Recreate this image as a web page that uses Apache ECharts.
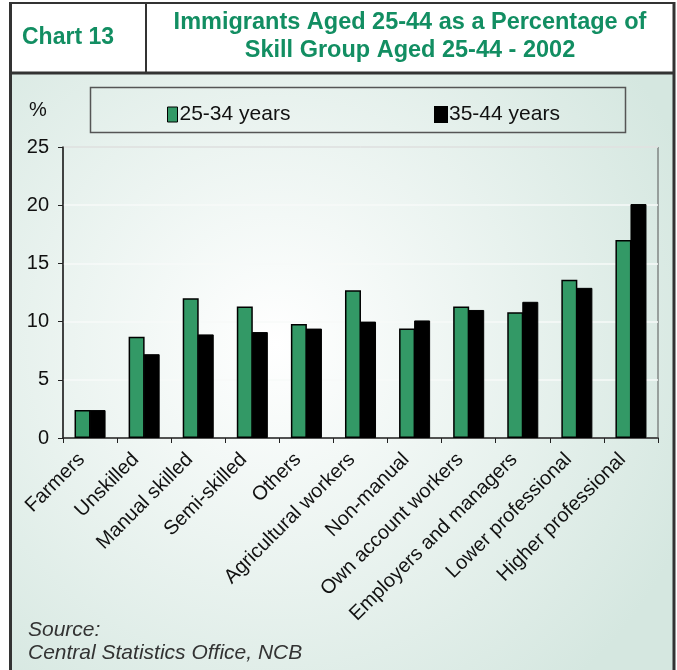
<!DOCTYPE html>
<html>
<head>
<meta charset="utf-8">
<script src="https://cdn.jsdelivr.net/npm/echarts@6/dist/echarts.min.js"></script>
<style>
  html, body { margin: 0; padding: 0; background: #fff; }
  #chart { width: 677px; height: 670px; }
</style>
</head>
<body>
<div id="chart"></div>
<script>
const categories = ['Farmers', 'Unskilled', 'Manual skilled', 'Semi-skilled', 'Others',
    'Agricultural workers', 'Non-manual', 'Own account workers', 'Employers and managers',
    'Lower professional', 'Higher professional'];
const age2534 = [2.4, 8.7, 12.0, 11.3, 9.8, 12.7, 9.4, 11.3, 10.8, 13.6, 17.0];
const age3544 = [2.4, 7.2, 8.9, 9.1, 9.4, 10.0, 10.1, 11.0, 11.7, 12.9, 20.1];
const yTicks = [0, 5, 10, 15, 20, 25];

const GREEN = '#339966';
const TITLE_GREEN = '#128e62';
const FONT = 'Liberation Sans, Arial, sans-serif';

const chart = echarts.init(document.getElementById('chart'), null, { renderer: 'canvas' });

const panelBg = new echarts.graphic.RadialGradient(0.4, 0.45, 0.75, [
    { offset: 0, color: '#ffffff' },
    { offset: 1, color: '#d5e7e0' }
]);

chart.setOption({
    animation: false,
    backgroundColor: '#ffffff',
    textStyle: { fontFamily: FONT },
    graphic: [
        // chart panel background
        { type: 'rect', z: -10, shape: { x: 11, y: 74, width: 662, height: 600 }, style: { fill: panelBg } },
        // frame lines
        { type: 'line', shape: { x1: 10, y1: 3, x2: 674, y2: 3 }, style: { stroke: '#333', lineWidth: 2 } },
        { type: 'line', shape: { x1: 10, y1: 73, x2: 674, y2: 73 }, style: { stroke: '#333', lineWidth: 3 } },
        { type: 'line', shape: { x1: 10.5, y1: 2, x2: 10.5, y2: 670 }, style: { stroke: '#333', lineWidth: 3 } },
        { type: 'line', shape: { x1: 674, y1: 2, x2: 674, y2: 670 }, style: { stroke: '#333', lineWidth: 3 } },
        { type: 'line', shape: { x1: 146, y1: 2, x2: 146, y2: 73 }, style: { stroke: '#333', lineWidth: 2 } },
        // header texts
        { type: 'text', x: 22, y: 38, style: { text: 'Chart 13', fill: TITLE_GREEN, font: 'bold 23px ' + FONT, textVerticalAlign: 'middle' } },
        { type: 'text', x: 410, y: 23, style: { text: 'Immigrants Aged 25-44 as a Percentage of', fill: TITLE_GREEN, font: 'bold 23.5px ' + FONT, textAlign: 'center', textVerticalAlign: 'middle' } },
        { type: 'text', x: 410, y: 51, style: { text: 'Skill Group Aged 25-44 - 2002', fill: TITLE_GREEN, font: 'bold 23.5px ' + FONT, textAlign: 'center', textVerticalAlign: 'middle' } },
        // legend box
        { type: 'rect', shape: { x: 90.5, y: 87.5, width: 535, height: 45 }, style: { fill: 'rgba(0,0,0,0)', stroke: '#555', lineWidth: 1.5 } },
        // unit
        { type: 'text', x: 29, y: 110, style: { text: '%', fill: '#111', font: '20px ' + FONT, textVerticalAlign: 'middle' } },
        // source
        { type: 'text', x: 28, y: 630, style: { text: 'Source:', fill: '#333', font: 'italic 21px ' + FONT, textVerticalAlign: 'middle' } },
        { type: 'text', x: 28, y: 653, style: { text: 'Central Statistics Office, NCB', fill: '#333', font: 'italic 21px ' + FONT, textVerticalAlign: 'middle' } }
    ],
    legend: [
        {
            data: ['25-34 years'], left: 162, top: 99, icon: 'rect', itemWidth: 10, itemHeight: 15, itemGap: 0,
            itemStyle: { borderColor: '#000', borderWidth: 1 },
            textStyle: { fontSize: 21, color: '#111', fontFamily: FONT, padding: [0, 0, 0, -3] }
        },
        {
            data: ['35-44 years'], left: 429, top: 99, icon: 'rect', itemWidth: 12, itemHeight: 15, itemGap: 0,
            textStyle: { fontSize: 21, color: '#111', fontFamily: FONT, padding: [0, 0, 0, -3] }
        }
    ],
    grid: {
        left: 63, top: 147, right: 19, bottom: 232,
        show: true, borderColor: '#555', borderWidth: 1, backgroundColor: 'transparent'
    },
    xAxis: {
        type: 'category',
        data: categories,
        axisLine: { lineStyle: { color: '#222', width: 1.5 } },
        axisTick: { show: true, length: 5, lineStyle: { color: '#222' } },
        axisLabel: { rotate: 45, fontSize: 20, color: '#111', margin: 10, padding: [0, 12, 0, 0], interval: 0, fontFamily: FONT }
    },
    yAxis: {
        type: 'value',
        min: yTicks[0], max: yTicks[yTicks.length - 1], interval: 5,
        axisLine: { show: true, lineStyle: { color: '#222', width: 1.5 } },
        axisTick: { show: true, length: 5, lineStyle: { color: '#222' } },
        axisLabel: { fontSize: 20, color: '#111', margin: 14, fontFamily: FONT },
        splitLine: { lineStyle: { color: '#f7faf9', width: 1.5 } }
    },
    series: [
        {
            name: '25-34 years', type: 'bar', data: age2534,
            barWidth: 16, barGap: '-6%',
            itemStyle: { color: GREEN, borderColor: '#000', borderWidth: 1.5 }
        },
        {
            name: '35-44 years', type: 'bar', data: age3544,
            barWidth: 16,
            itemStyle: { color: '#000', borderColor: '#000', borderWidth: 1 }
        }
    ]
});
</script>
</body>
</html>
